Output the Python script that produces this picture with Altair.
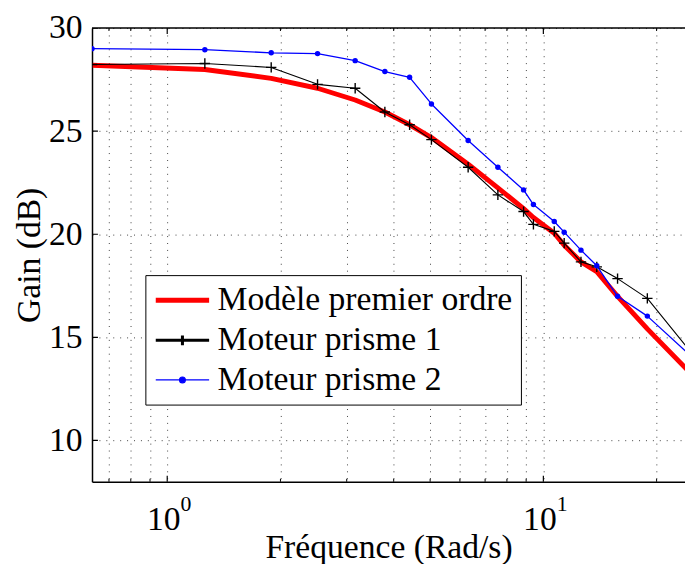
import altair as alt
import pandas as pd

# ---------------- data ----------------
freq = [0.631, 1.259, 1.89, 2.51, 3.16, 3.79, 4.41, 5.04, 6.31, 7.57, 8.86,
        9.41, 10.69, 11.36, 12.59, 13.87, 15.75, 18.9, 25.1]
modele = [28.20, 27.99, 27.56, 27.08, 26.51, 25.93, 25.31, 24.69, 23.40, 22.25,
          21.24, 20.81, 20.05, 19.47, 18.66, 18.18, 16.99, 15.41, 13.11]
prisme1 = [28.23, 28.28, 28.09, 27.27, 27.08, 25.93, 25.31, 24.59, 23.25, 21.91,
           21.10, 20.48, 20.14, 19.57, 18.66, 18.42, 17.85, 16.89, 14.12]
prisme2 = [29.00, 28.95, 28.80, 28.76, 28.42, 27.89, 27.61, 26.32, 24.55, 23.25,
           22.15, 21.44, 20.62, 20.10, 19.23, 18.47, 16.99, 16.03, 13.97]

series_names = ["Modèle premier ordre", "Moteur prisme 1", "Moteur prisme 2"]
series_colors = ["#ff0000", "#000000", "#0000ff"]
series_widths = [5, 1.1, 1.3]

x_domain = [0.631, 23.8]
y_domain = [8, 30]
x_minor = [0.7, 0.8, 0.9, 2, 3, 4, 5, 6, 7, 8, 9, 20]
x_major = [1, 10]
x_grid = [0.7, 0.8, 0.9, 1, 2, 3, 4, 5, 6, 7, 8, 9, 10, 20]
y_ticks = [10, 15, 20, 25, 30]
exponents = ["0", "1"]

# ---------------- tables ----------------
rows = []
for name, vals in zip(series_names, [modele, prisme1, prisme2]):
    for f, g in zip(freq, vals):
        rows.append({"freq": f, "gain": g, "series": name})
df = pd.DataFrame(rows)
df_xminor = pd.DataFrame({"x": x_minor})
df_xmajor = pd.DataFrame({"x": x_major})
df_yt = pd.DataFrame({"y": y_ticks})
df_top = pd.DataFrame({"y": [y_domain[1]]})
df_sup = pd.DataFrame({"x": x_major, "t": exponents})

FONT = "Liberation Serif"
FS = 34
W, H = 600, 459

xs = alt.Scale(type="log", domain=x_domain, nice=False)
ys = alt.Scale(domain=y_domain, nice=False, zero=False)
cscale = alt.Scale(domain=series_names, range=series_colors)
wscale = alt.Scale(domain=series_names, range=series_widths)

legend_paths = [
    "M-1.8,0H1.8",
    "M-1.8,0H1.8M0,-0.33V0.33",
    "M-1.8,0H1.8M0.2,0A0.2,0.2 0 1,1 -0.2,0A0.2,0.2 0 1,1 0.2,0Z",
]

leg = alt.Legend(
    title=None, orient="none", legendX=54, legendY=250,
    padding=8, strokeColor="black", fillColor="white",
    labelFont=FONT, labelFontSize=FS, labelColor="black", labelLimit=0,
    labelOffset=18, symbolOffset=12, symbolSize=900, rowPadding=6,
)

xaxis = alt.Axis(
    values=x_grid,
    labelExpr="datum.value == 1 || datum.value == 10 ? '10' : ''",
    grid=True, gridDash=[1, 6], gridColor="#000000", gridOpacity=0.75, gridWidth=1,
    ticks=False, domainColor="black", domainWidth=1.5,
    labelFont=FONT, labelFontSize=FS, labelColor="black", labelPadding=21,
    labelOffset=-4, labelOverlap=False,
    title="Fréquence (Rad/s)", titleFont=FONT, titleFontSize=FS,
    titleFontWeight="normal", titleColor="black",
    titleBaseline="alphabetic", titleY=77,
)
yaxis = alt.Axis(
    values=y_ticks,
    grid=True, gridDash=[1, 6], gridColor="#000000", gridOpacity=0.75, gridWidth=1,
    ticks=False, domainColor="black", domainWidth=1.5,
    labelFont=FONT, labelFontSize=FS, labelColor="black", labelPadding=10,
    labelBaseline="middle",
    title="Gain (dB)", titleFont=FONT, titleFontSize=FS,
    titleFontWeight="normal", titleColor="black",
    titleBaseline="middle", titleX=-63,
)

X = alt.X("freq:Q", scale=xs, axis=xaxis)
Y = alt.Y("gain:Q", scale=ys, axis=yaxis)

line_layers = []
for name, col, wd in zip(series_names, series_colors, series_widths):
    line_layers.append(
        alt.Chart(df).transform_filter(alt.datum.series == name)
        .mark_line(clip=True, strokeJoin="round", color=col, strokeWidth=wd)
        .encode(x=X, y=Y)
    )

plus = alt.Chart(df).transform_filter(alt.datum.series == series_names[1]).mark_point(
    shape="M-1,0H1M0,-1V1", size=110, filled=False, color="black",
    strokeWidth=1.4, opacity=1, clip=True,
).encode(x=X, y=Y)

dots = alt.Chart(df).transform_filter(alt.datum.series == series_names[2]).mark_circle(
    size=30, color="#0000ff", opacity=1, clip=True,
).encode(x=X, y=Y)

# legend comes from the points measured beyond the right edge (clipped away)
legend_layer = alt.Chart(df).transform_filter(
    alt.datum.freq > x_domain[1]
).mark_point(filled=True, opacity=1, clip=True).encode(
    x=X, y=Y,
    fill=alt.Fill("series:N", scale=cscale, legend=leg),
    stroke=alt.Stroke("series:N", scale=cscale, legend=leg),
    shape=alt.Shape("series:N", scale=alt.Scale(domain=series_names, range=legend_paths), legend=leg),
    strokeWidth=alt.StrokeWidth("series:N", scale=wscale, legend=leg),
)

top_border = alt.Chart(df_top).mark_rule(color="black", strokeWidth=1.5).encode(
    y=alt.Y("y:Q", scale=ys, axis=yaxis)
)

XT = alt.X("x:Q", scale=xs, axis=xaxis)
YT = alt.Y("y:Q", scale=ys, axis=yaxis)

tick_xminor_b = alt.Chart(df_xminor).mark_tick(
    orient="vertical", size=6, thickness=1, color="black", clip=True, opacity=1
).encode(x=XT, y=alt.datum(y_domain[0]))
tick_xminor_t = alt.Chart(df_xminor).mark_tick(
    orient="vertical", size=6, thickness=1, color="black", clip=True, opacity=1
).encode(x=XT, y=alt.datum(y_domain[1]))
tick_xmajor_b = alt.Chart(df_xmajor).mark_tick(
    orient="vertical", size=12, thickness=1.2, color="black", clip=True, opacity=1
).encode(x=XT, y=alt.datum(y_domain[0]))
tick_xmajor_t = alt.Chart(df_xmajor).mark_tick(
    orient="vertical", size=12, thickness=1.2, color="black", clip=True, opacity=1
).encode(x=XT, y=alt.datum(y_domain[1]))
tick_y = alt.Chart(df_yt).mark_tick(
    orient="horizontal", size=12, thickness=1.2, color="black", clip=True, opacity=1
).encode(y=YT, x=alt.datum(x_domain[0]))

sup = alt.Chart(df_sup).mark_text(
    font=FONT, fontSize=22, color="black", dx=19, baseline="middle", align="center"
).encode(x=XT, y=alt.value(H + 23), text="t:N")

chart = alt.layer(
    *line_layers, tick_xminor_b, tick_xminor_t, tick_xmajor_b, tick_xmajor_t, tick_y,
    plus, dots, top_border, legend_layer, sup,
).properties(
    width=W, height=H,
    autosize=alt.AutoSizeParams(type="none"),
    padding={"left": 85, "top": 17, "right": 0, "bottom": 80},
).configure_view(stroke=None)

chart.save("out.html", embed_options={"renderer": "svg", "actions": False})
